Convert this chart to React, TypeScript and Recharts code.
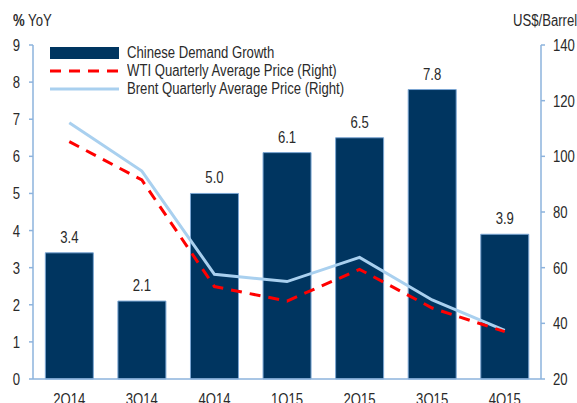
import React from "react";
import { ComposedChart, Bar, Line, XAxis, YAxis, LabelList } from "recharts";

const quarters = ["2Q14", "3Q14", "4Q14", "1Q15", "2Q15", "3Q15", "4Q15"];
const demandGrowth = [3.4, 2.1, 5.0, 6.1, 6.5, 7.8, 3.9];
const wtiPrice = [105.3, 91.5, 53.2, 48.0, 59.4, 45.5, 37.0];
const brentPrice = [112.1, 94.7, 57.6, 55.0, 63.7, 48.4, 37.5];
const leftTicks = [0, 1, 2, 3, 4, 5, 6, 7, 8, 9];
const rightTicks = [20, 40, 60, 80, 100, 120, 140];

const data = quarters.map((q, i) => ({
  q,
  demand: demandGrowth[i],
  wti: wtiPrice[i],
  brent: brentPrice[i],
}));

const FONT = "'Liberation Sans', Arial, sans-serif";
const SX = 0.82;
const AXIS = "#8db3dd";
const BAR = "#003560";
const BRENT = "#a9d0ef";
const WTI = "#ff0000";
const TEXT = "#2a2a2a";

const legendItems = [
  { name: "Chinese Demand Growth", type: "bar" },
  { name: "WTI Quarterly Average Price (Right)", type: "wti" },
  { name: "Brent Quarterly Average Price (Right)", type: "brent" },
];

const narrow: React.CSSProperties = {
  fontFamily: FONT,
  fontSize: 16,
  color: TEXT,
  whiteSpace: "nowrap",
  transform: `scaleX(${SX})`,
  transformOrigin: "left center",
  display: "inline-block",
};

const LegendBox = () => (
  <div style={{ position: "absolute", left: 50, top: 44 }}>
    {legendItems.map((it) => (
      <div key={it.name} style={{ display: "flex", alignItems: "center", height: 18 }}>
        <svg width={70} height={18} style={{ marginRight: 7, flex: "none" }}>
          {it.type === "bar" && <rect x={0} y={3} width={69} height={12} fill={BAR} />}
          {it.type === "wti" && (
            <line x1={0} y1={9} x2={69} y2={9} stroke={WTI} strokeWidth={3} strokeDasharray="11 8" />
          )}
          {it.type === "brent" && <line x1={0} y1={9} x2={69} y2={9} stroke={BRENT} strokeWidth={3} />}
        </svg>
        <span style={narrow}>{it.name}</span>
      </div>
    ))}
  </div>
);

const NarrowText = ({ x, y, anchor, children }: any) => (
  <text
    transform={`translate(${x},${y}) scale(${SX},1)`}
    textAnchor={anchor}
    fontFamily={FONT}
    fontSize={16}
    fill={TEXT}
  >
    {children}
  </text>
);

const XTick = (props: any) => {
  const { x, y, payload } = props;
  return (
    <NarrowText x={x} y={y + 18} anchor="middle">
      {payload.value}
    </NarrowText>
  );
};

const YTick = (props: any) => {
  const { x, y, payload, textAnchor } = props;
  return (
    <NarrowText x={x} y={y + 6} anchor={textAnchor}>
      {payload.value}
    </NarrowText>
  );
};

const BarLabel = (props: any) => {
  const { x, y, width, value } = props;
  return (
    <NarrowText x={Number(x) + Number(width) / 2} y={Number(y) - 10} anchor="middle">
      {Number(value).toFixed(1)}
    </NarrowText>
  );
};

export default function App() {
  return (
    <div style={{ position: "absolute", left: 0, top: 0, width: 577, height: 403, background: "#fff", overflow: "hidden" }}>
      <ComposedChart
        width={577}
        height={403}
        data={data}
        margin={{ top: 45, right: 0, bottom: 0, left: 0 }}
        barCategoryGap="17%"
      >
        <XAxis
          dataKey="q"
          height={24}
          tickLine={false}
          axisLine={{ stroke: AXIS, strokeWidth: 1.5 }}
          tick={<XTick />}
          interval={0}
        />
        <YAxis
          yAxisId="left"
          orientation="left"
          width={33}
          domain={[0, 9]}
          ticks={leftTicks}
          interval={0}
          axisLine={{ stroke: AXIS, strokeWidth: 1.5 }}
          tickLine={{ stroke: AXIS, strokeWidth: 1.5 }}
          tickSize={4}
          tickMargin={9}
          tick={<YTick />}
        />
        <YAxis
          yAxisId="right"
          orientation="right"
          width={36}
          domain={[20, 140]}
          ticks={rightTicks}
          interval={0}
          axisLine={{ stroke: AXIS, strokeWidth: 1.5 }}
          tickLine={{ stroke: AXIS, strokeWidth: 1.5 }}
          tickSize={4}
          tickMargin={8}
          tick={<YTick />}
        />
        <Bar
          yAxisId="left"
          dataKey="demand"
          name="Chinese Demand Growth"
          fill={BAR}
          stroke="#7ba6d3"
          strokeWidth={1}
          isAnimationActive={false}
        >
          <LabelList dataKey="demand" content={<BarLabel />} />
        </Bar>
        <Line
          yAxisId="right"
          dataKey="brent"
          name="Brent Quarterly Average Price (Right)"
          stroke={BRENT}
          strokeWidth={3}
          dot={false}
          isAnimationActive={false}
        />
        <Line
          yAxisId="right"
          dataKey="wti"
          name="WTI Quarterly Average Price (Right)"
          stroke={WTI}
          strokeWidth={3}
          strokeDasharray="11 8"
          dot={false}
          isAnimationActive={false}
        />
      </ComposedChart>
      <LegendBox />
      <div style={{ position: "absolute", left: 13, top: 12 }}>
        <span style={narrow}>
          <b>%</b> YoY
        </span>
      </div>
      <div style={{ position: "absolute", left: 513, top: 12 }}>
        <span style={narrow}>US$/Barrel</span>
      </div>
    </div>
  );
}
